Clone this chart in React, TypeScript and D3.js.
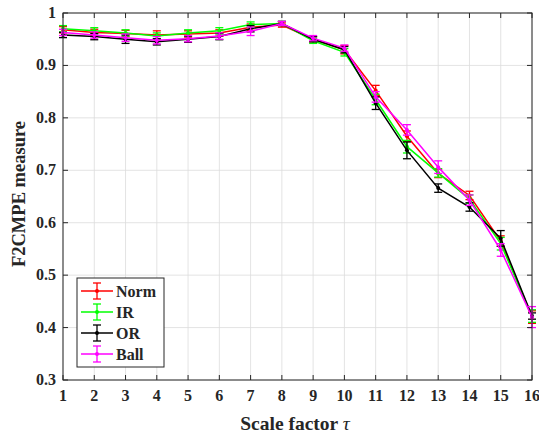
import React from "react";
import * as d3 from "d3";

const scales = [1, 2, 3, 4, 5, 6, 7, 8, 9, 10, 11, 12, 13, 14, 15, 16];
const normVals = [0.968, 0.963, 0.961, 0.958, 0.960, 0.962, 0.973, 0.977, 0.950, 0.930, 0.852, 0.765, 0.694, 0.652, 0.565, 0.420];
const normErr = [0.006, 0.006, 0.006, 0.008, 0.006, 0.006, 0.006, 0.004, 0.005, 0.008, 0.010, 0.010, 0.008, 0.008, 0.010, 0.012];
const irVals = [0.970, 0.966, 0.962, 0.956, 0.962, 0.966, 0.978, 0.980, 0.947, 0.925, 0.835, 0.745, 0.695, 0.645, 0.560, 0.422];
const irErr = [0.006, 0.006, 0.006, 0.006, 0.006, 0.006, 0.005, 0.004, 0.005, 0.007, 0.010, 0.012, 0.008, 0.008, 0.012, 0.012];
const orVals = [0.958, 0.955, 0.950, 0.945, 0.950, 0.955, 0.970, 0.980, 0.950, 0.930, 0.828, 0.738, 0.666, 0.630, 0.570, 0.422];
const orErr = [0.005, 0.006, 0.008, 0.006, 0.006, 0.006, 0.006, 0.004, 0.005, 0.006, 0.012, 0.016, 0.008, 0.008, 0.015, 0.006];
const ballVals = [0.963, 0.958, 0.953, 0.948, 0.951, 0.956, 0.965, 0.980, 0.952, 0.933, 0.840, 0.777, 0.706, 0.643, 0.548, 0.420];
const ballErr = [0.006, 0.006, 0.007, 0.007, 0.006, 0.006, 0.008, 0.004, 0.005, 0.006, 0.010, 0.010, 0.012, 0.010, 0.012, 0.020];
const seriesNames = ["Norm", "IR", "OR", "Ball"];
const seriesColors = ["#ff0000", "#00ff00", "#000000", "#ff00ff"];
const yTicks = [0.3, 0.4, 0.5, 0.6, 0.7, 0.8, 0.9, 1];

const W = 539;
const H = 436;
const M = { left: 63, right: 7, top: 13, bottom: 56 };
const FONT = "'Liberation Serif', 'Times New Roman', Times, 'DejaVu Serif', serif";

export default function App() {
  const x = d3.scaleLinear().domain([1, 16]).range([M.left, W - M.right]);
  const y = d3.scaleLinear().domain([0.3, 1]).range([H - M.bottom, M.top]);
  const series = [
    { vals: normVals, err: normErr },
    { vals: irVals, err: irErr },
    { vals: orVals, err: orErr },
    { vals: ballVals, err: ballErr },
  ];
  const line = d3
    .line<number>()
    .x((_, i) => x(scales[i]))
    .y((d) => y(d));
  const cap = 4;
  const x0 = x.range()[0], x1 = x.range()[1], y0 = y.range()[0], y1 = y.range()[1];
  const ts = { fontFamily: FONT, fontWeight: 700 as const };

  const lx = 77, ly = 278, lw = 87, lh = 89;

  return (
    <svg width={W} height={H} style={{ position: "absolute", left: 0, top: 0, background: "#fff", fontFamily: FONT }}>
      <rect x={0} y={0} width={W} height={H} fill="#fff" />
      {scales.map((s) => (
        <line key={"gx" + s} x1={x(s)} x2={x(s)} y1={y0} y2={y1} stroke="#dcdcdc" strokeWidth={0.8} />
      ))}
      {yTicks.map((t) => (
        <line key={"gy" + t} x1={x0} x2={x1} y1={y(t)} y2={y(t)} stroke="#dcdcdc" strokeWidth={0.8} />
      ))}
      {series.map((s, si) => (
        <g key={si} stroke={seriesColors[si]} fill={seriesColors[si]}>
          <path d={line(s.vals) || ""} fill="none" strokeWidth={1.5} />
          {s.vals.map((v, i) => {
            const cx = x(scales[i]);
            const top = y(v + s.err[i]);
            const bot = y(v - s.err[i]);
            return (
              <g key={i} strokeWidth={1.3}>
                <line x1={cx} x2={cx} y1={top} y2={bot} />
                <line x1={cx - cap} x2={cx + cap} y1={top} y2={top} />
                <line x1={cx - cap} x2={cx + cap} y1={bot} y2={bot} />
                <circle cx={cx} cy={y(v)} r={2} stroke="none" />
              </g>
            );
          })}
        </g>
      ))}
      <rect x={x0} y={y1} width={x1 - x0} height={y0 - y1} fill="none" stroke="#262626" strokeWidth={1} />
      {scales.map((s) => (
        <g key={"tx" + s} stroke="#262626">
          <line x1={x(s)} x2={x(s)} y1={y0} y2={y0 - 5} />
          <line x1={x(s)} x2={x(s)} y1={y1} y2={y1 + 5} />
        </g>
      ))}
      {yTicks.map((t) => (
        <g key={"ty" + t} stroke="#262626">
          <line x1={x0} x2={x0 + 5} y1={y(t)} y2={y(t)} />
          <line x1={x1} x2={x1 - 5} y1={y(t)} y2={y(t)} />
        </g>
      ))}
      {scales.map((s) => (
        <text key={"lx" + s} x={x(s)} y={y0 + 21} textAnchor="middle" fontSize={16} style={ts} fill="#262626">
          {s}
        </text>
      ))}
      {yTicks.map((t) => (
        <text key={"ly" + t} x={x0 - 7} y={y(t) + 5} textAnchor="end" fontSize={16} style={ts} fill="#262626">
          {t === 1 ? "1" : t.toFixed(1)}
        </text>
      ))}
      <text x={295} y={H - 6} textAnchor="middle" fontSize={19.5} style={ts} fill="#262626">
        Scale factor <tspan style={{ fontStyle: "italic", fontWeight: 400 }}>τ</tspan>
      </text>
      <text
        transform={`translate(${25}, ${194}) rotate(-90)`}
        textAnchor="middle"
        fontSize={18.5}
        style={ts}
        fill="#262626"
      >
        F2CMPE measure
      </text>
      <rect x={lx} y={ly} width={lw} height={lh} fill="#fff" stroke="#262626" strokeWidth={1} />
      {seriesNames.map((n, i) => {
        const cy = ly + 13 + i * 21;
        const c = seriesColors[i];
        const mx = lx + 20;
        return (
          <g key={n}>
            <line x1={lx + 4} x2={lx + 36} y1={cy} y2={cy} stroke={c} strokeWidth={1.5} />
            <line x1={mx} x2={mx} y1={cy - 8} y2={cy + 8} stroke={c} strokeWidth={1.3} />
            <line x1={mx - 4} x2={mx + 4} y1={cy - 8} y2={cy - 8} stroke={c} strokeWidth={1.3} />
            <line x1={mx - 4} x2={mx + 4} y1={cy + 8} y2={cy + 8} stroke={c} strokeWidth={1.3} />
            <circle cx={mx} cy={cy} r={2} fill={c} />
            <text x={lx + 39} y={cy + 5.5} fontSize={16} style={ts} fill="#262626">
              {n}
            </text>
          </g>
        );
      })}
    </svg>
  );
}
